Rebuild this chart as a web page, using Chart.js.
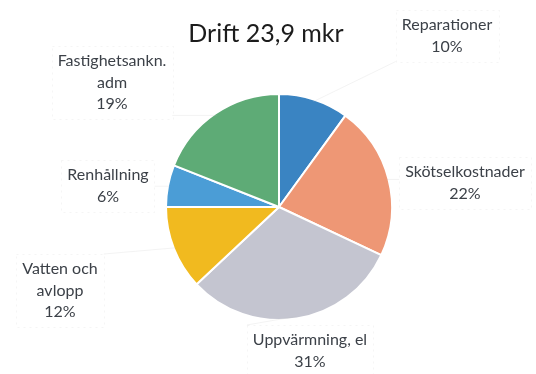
<!DOCTYPE html>
<html lang="sv">
<head>
<meta charset="utf-8">
<title>Drift 23,9 mkr</title>
<script src="https://cdn.jsdelivr.net/npm/chart.js@4/dist/chart.umd.min.js"></script>
<style>
  html, body { margin: 0; padding: 0; background: #ffffff; }
  #wrap { position: relative; width: 536px; height: 374px; }
</style>
</head>
<body>
<div id="wrap"><canvas id="chart" width="536" height="374"></canvas></div>
<script>
// Driftkostnader, andel i procent
const title = 'Drift 23,9 mkr';
const categories = ['Reparationer', 'Skötselkostnader', 'Uppvärmning, el', 'Vatten och avlopp', 'Renhållning', 'Fastighetsankn. adm'];
const shares = [10, 22, 31, 12, 6, 19];
// Radbrytningar för etiketterna
const labelLines = [
  ['Reparationer'],
  ['Skötselkostnader'],
  ['Uppvärmning, el'],
  ['Vatten och', 'avlopp'],
  ['Renhållning'],
  ['Fastighetsankn.', 'adm']
];
const colors = ['#3a84c2', '#ee9775', '#c4c5d0', '#f1ba1f', '#4b9dd6', '#5eab76'];

// Etikettrutornas mittpunkt (x) och första radens baslinje (y)
const labelAnchors = [
  { x: 447, y: 30 },
  { x: 465, y: 177 },
  { x: 310, y: 345 },
  { x: 60, y: 274 },
  { x: 108, y: 180 },
  { x: 112, y: 66 }
];
const lineHeight = 21.5;
const fontFamily = 'Lato, "Open Sans", "Liberation Sans", sans-serif';

const pct = v => v + '%';

const labelPlugin = {
  id: 'sliceLabels',
  afterDatasetsDraw(chart) {
    const ctx = chart.ctx;
    const meta = chart.getDatasetMeta(0);
    ctx.save();
    // rubrik
    ctx.fillStyle = '#1c1c1c';
    ctx.font = '25px ' + fontFamily;
    ctx.textAlign = 'center';
    ctx.textBaseline = 'alphabetic';
    ctx.fillText(title, 266, 42);

    ctx.font = '16px ' + fontFamily;
    meta.data.forEach((arc, i) => {
      const a = labelAnchors[i];
      const lines = labelLines[i].concat([pct(shares[i])]);
      const w = Math.max(...lines.map(t => ctx.measureText(t).width)) + 12;
      const boxTop = a.y - 20;
      const boxBottom = a.y + (lines.length - 1) * lineHeight + 10;
      const boxLeft = a.x - w / 2;
      const boxRight = a.x + w / 2;

      // mycket svag ram runt etiketten
      ctx.strokeStyle = 'rgba(200,200,200,0.18)';
      ctx.lineWidth = 1;
      ctx.setLineDash([2, 4]);
      ctx.strokeRect(Math.round(boxLeft) + 0.5, Math.round(boxTop) + 0.5,
                     Math.round(w), Math.round(boxBottom - boxTop));

      // svag ledarlinje från rutan mot tårtbiten
      const mid = (arc.startAngle + arc.endAngle) / 2;
      const ex = arc.x + Math.cos(mid) * arc.outerRadius * 0.98;
      const ey = arc.y + Math.sin(mid) * arc.outerRadius * 0.98;
      const sy = Math.max(boxTop, Math.min(boxBottom, ey));
      const sx = ex < a.x ? boxLeft : boxRight;
      ctx.setLineDash([]);
      ctx.strokeStyle = 'rgba(190,190,190,0.18)';
      ctx.beginPath();
      ctx.moveTo(ex, ey);
      ctx.lineTo(sx, sy);
      ctx.stroke();

      ctx.fillStyle = '#3c4148';
      lines.forEach((t, k) => {
        ctx.fillText(t, a.x, a.y + k * lineHeight);
      });
    });
    ctx.restore();
  }
};

new Chart(document.getElementById('chart'), {
  type: 'pie',
  data: {
    labels: categories,
    datasets: [{
      data: shares,
      backgroundColor: colors,
      borderColor: '#ffffff',
      borderWidth: 2
    }]
  },
  options: {
    responsive: false,
    animation: false,
    layout: { padding: { top: 93, bottom: 53, left: 165, right: 143 } },
    plugins: {
      legend: { display: false },
      tooltip: { enabled: false },
      title: { display: false }
    }
  },
  plugins: [labelPlugin]
});
</script>
</body>
</html>
